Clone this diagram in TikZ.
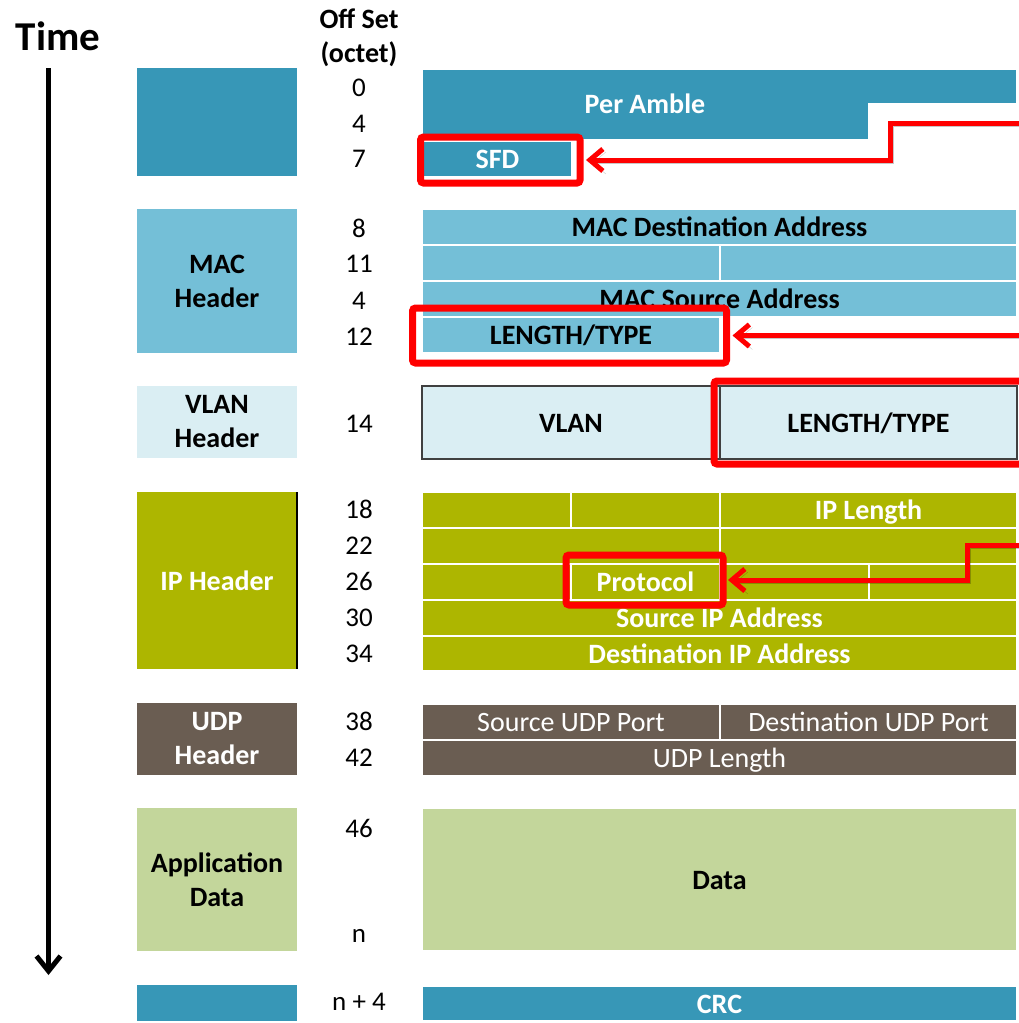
\documentclass[tikz,border=0pt]{standalone}
\usepackage{fontspec}
\setmainfont{Carlito}
\usetikzlibrary{arrows.meta}

\definecolor{blueD}{HTML}{3797B7}
\definecolor{blueM}{HTML}{74BFD7}
\definecolor{blueL}{HTML}{DAEEF3}
\definecolor{olive}{HTML}{ADB600}
\definecolor{brown}{HTML}{6A5D52}
\definecolor{greenL}{HTML}{C3D69B}
\definecolor{hired}{HTML}{FF0000}

\begin{document}
\begin{tikzpicture}[x=1pt,y=-1pt,
  cell/.style={draw=white, line width=2pt, inner sep=0pt, outer sep=0pt,
    anchor=north west, font=\fontsize{28}{30}\selectfont\bfseries,
    text height=19pt, text depth=0pt},
  celltext/.style={inner sep=0pt, font=\fontsize{28}{30}\selectfont\bfseries,
    text height=18pt, text depth=0pt},
  thin/.style={font=\fontsize{28}{30}\selectfont},
  lbox/.style={inner sep=0pt, outer sep=0pt, anchor=north west,
    minimum width=160pt, align=center,
    font=\fontsize{28}{34}\selectfont\bfseries},
  offs/.style={inner sep=0pt, font=\fontsize{27}{30}\selectfont,
    text height=17pt, text depth=0pt},
  hdr/.style={inner sep=0pt, font=\fontsize{28}{30}\selectfont\bfseries,
    text height=18pt, text depth=0pt},
  hl/.style={draw=hired, line width=7pt, rounded corners=3pt, inner sep=0pt,
    outer sep=0pt},
  redarrow/.style={draw=hired, line width=5pt,
    -{Straight Barb[length=13pt,width=22pt]},
    preaction={draw=black, opacity=0.22,
      transform canvas={shift={(3pt,-3pt)}}}},
]
\useasboundingbox (0,0) rectangle (1019,1023);
\clip (0,0) rectangle (1019,1023);

% time axis
\node[inner sep=0pt, font=\fontsize{41}{42}\selectfont\bfseries,
  text height=26.4pt, text depth=0pt] (time) at (58,37.5) {Time};
\coordinate (tstart) at (48.5,68);
\coordinate (tend) at (48.5,975);
\draw[line width=5pt, -{Straight Barb[length=15pt,width=24pt]}] (tstart) -- (tend);

% offset column header
\node[hdr] (offhdr) at (359,19.5) {Off Set};
\node[hdr] (octhdr) at (359,53.3) {(octet)};

% left-hand section labels
\node[lbox, fill=blueD, minimum height=108pt] (lpre) at (137,68) {};
\node[lbox, fill=blueM, minimum height=144pt] (lmac) at (137,209) {MAC\\Header};
\node[lbox, fill=blueL, minimum height=72pt] (lvlan) at (137,386) {VLAN\\Header};
\node[lbox, fill=olive, text=white, minimum height=177pt] (lip) at (137,492) {IP Header};
\draw[line width=1.5pt, black] (lip.north east) -- (lip.south east);
\node[lbox, fill=brown, text=white, minimum height=72pt] (ludp) at (137,703) {UDP\\Header};
\node[lbox, fill=greenL, minimum height=143pt] (lapp) at (137,808) {Application\\Data};
\node[lbox, fill=blueD, minimum height=36pt] (lcrc) at (137,985) {};

% offsets
\node[offs] (o0) at (359,88) {0};
\node[offs] (o4a) at (359,124) {4};
\node[offs] (o7) at (359,159) {7};
\node[offs] (o8) at (359,229) {8};
\node[offs] (o11) at (359,264) {11};
\node[offs] (o4b) at (359,301) {4};
\node[offs] (o12) at (359,337) {12};
\node[offs] (o14) at (359,424) {14};
\node[offs] (o18) at (359,510) {18};
\node[offs] (o22) at (359,546) {22};
\node[offs] (o26) at (359,582) {26};
\node[offs] (o30) at (359,618) {30};
\node[offs] (o34) at (359,654) {34};
\node[offs] (o38) at (359,722) {38};
\node[offs] (o42) at (359,758) {42};
\node[offs] (o46) at (359,829) {46};
\node[offs] (on) at (359,934) {n};
\node[offs] (on4) at (359,1002) {n + 4};

% preamble and start frame delimiter
\path[fill=blueD, draw=white, line width=2pt]
  (422,69) -- (1017,69) -- (1017,104) -- (869,104) -- (869,140) -- (422,140) -- cycle;
\node[celltext, text=white] (pream) at (645,104.5) {Per Amble};
\node[cell, fill=blueD, text=white, minimum width=149pt, minimum height=36pt] (sfd) at (423,141) {SFD};

% MAC header
\node[cell, fill=blueM, minimum width=595pt, minimum height=36pt] (macdst) at (422,209) {MAC Destination Address};
\node[cell, fill=blueM, minimum width=298pt, minimum height=36pt] (macmida) at (422,245) {};
\node[cell, fill=blueM, minimum width=297pt, minimum height=36pt] (macmidb) at (720,245) {};
\node[cell, fill=blueM, minimum width=595pt, minimum height=36pt] (macsrc) at (422,281) {MAC Source Address};
\node[cell, fill=blueM, minimum width=298pt, minimum height=36pt] (maclt) at (422,317) {LENGTH/TYPE};

% VLAN tag
\node[cell, draw=black!75, line width=1.2pt, fill=blueL, minimum width=298pt, minimum height=73pt] (vlan) at (422,386) {VLAN};
\node[cell, draw=black!75, line width=1.2pt, fill=blueL, minimum width=297pt, minimum height=73pt] (vlanlt) at (720,386) {LENGTH/TYPE};

% IP header
\node[cell, fill=olive, minimum width=149pt, minimum height=36pt] (ipa) at (422,492) {};
\node[cell, fill=olive, minimum width=149pt, minimum height=36pt] (ipb) at (571,492) {};
\node[cell, fill=olive, text=white, minimum width=297pt, minimum height=36pt] (iplen) at (720,492) {IP Length};
\node[cell, fill=olive, minimum width=298pt, minimum height=36pt] (ipc) at (422,528) {};
\node[cell, fill=olive, minimum width=297pt, minimum height=36pt] (ipd) at (720,528) {};
\node[cell, fill=olive, minimum width=149pt, minimum height=36pt] (ipe) at (422,564) {};
\node[cell, fill=olive, text=white, minimum width=149pt, minimum height=36pt] (proto) at (571,564) {Protocol};
\node[cell, fill=olive, minimum width=149pt, minimum height=36pt] (ipf) at (720,564) {};
\node[cell, fill=olive, minimum width=148pt, minimum height=36pt] (ipg) at (869,564) {};
\node[cell, fill=olive, text=white, minimum width=595pt, minimum height=36pt] (srcip) at (422,600) {Source IP Address};
\node[cell, fill=olive, text=white, minimum width=595pt, minimum height=35pt] (dstip) at (422,636) {Destination IP Address};

% UDP header
\node[cell, thin, fill=brown, text=white, minimum width=298pt, minimum height=36pt] (udpsrc) at (422,704) {Source UDP Port};
\node[cell, thin, fill=brown, text=white, minimum width=297pt, minimum height=36pt] (udpdst) at (720,704) {Destination UDP Port};
\node[cell, thin, fill=brown, text=white, minimum width=595pt, minimum height=36pt] (udplen) at (422,740) {UDP Length};

% payload and checksum
\node[cell, fill=greenL, minimum width=595pt, minimum height=143pt] (data) at (422,808) {Data};
\node[cell, fill=blueD, text=white, minimum width=595pt, minimum height=35pt] (crc) at (422,986) {CRC};

% highlighted fields
\node[hl, minimum width=159.5pt, minimum height=46pt] (sfdhl) at (500.25,160) {};
\node[hl, minimum width=314pt, minimum height=55pt] (lthl) at (569.5,335.5) {};
\node[hl, minimum width=316pt, minimum height=83pt] (vlanhl) at (872,422.5) {};
\node[hl, minimum width=157pt, minimum height=50pt] (prothl) at (644.5,580) {};

% pointers to the highlighted fields
\coordinate (sfdin) at (1025,123);
\coordinate (sfdbend) at (890,160);
\draw[redarrow] (sfdin) -| (sfdbend) -- ([xshift=6pt]sfdhl.east);

\coordinate (ltin) at (1025,335.5);
\draw[redarrow] (ltin) -- ([xshift=6pt]lthl.east);

\coordinate (protin) at (1025,545);
\coordinate (protbend) at (967,580);
\draw[redarrow] (protin) -| (protbend) -- ([xshift=5pt]prothl.east);
\end{tikzpicture}
\end{document}
